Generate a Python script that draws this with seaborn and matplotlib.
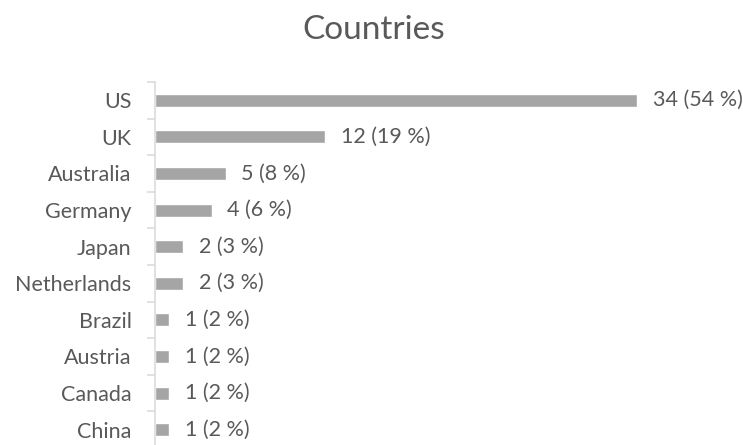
import matplotlib
matplotlib.use("Agg")
import matplotlib.pyplot as plt
import seaborn as sns
import pandas as pd

countries = ["US", "UK", "Australia", "Germany", "Japan", "Netherlands",
             "Brazil", "Austria", "Canada", "China"]
counts = [34, 12, 5, 4, 2, 2, 1, 1, 1, 1]

total = sum(counts)
df = pd.DataFrame({"country": countries, "count": counts})

sns.set_style("white")
plt.rcParams["font.family"] = ["Lato", "DejaVu Sans"]

text_color = "#595959"
bar_color = "#a5a5a5"
grid_color = "#d9d9d9"

fig = plt.figure(figsize=(7.43, 4.45), dpi=100)
ax = fig.add_axes([155 / 743, -3 / 445, 567 / 743, 366 / 445])

sns.barplot(data=df, x="count", y="country", orient="h", color=bar_color,
            width=0.355, ax=ax, saturation=1)

ax.set_xlim(0, 40)
ax.set_ylim(len(countries) - 0.5, -0.5)
ax.set_xlabel("")
ax.set_ylabel("")
ax.set_xticks([])

for i, c in enumerate(counts):
    pct = round(100 * c / total)
    ax.text(c + 1.1, i, f"{c} ({pct} %)", va="center", ha="left",
            fontsize=15.5, color=text_color)

ax.set_yticks(range(len(countries)))
ax.set_yticklabels(countries, fontsize=15.5, color=text_color)
ax.tick_params(axis="y", which="major", left=False, length=0, pad=17)
ax.set_yticks([i - 0.5 for i in range(len(countries) + 1)], minor=True)
ax.tick_params(axis="y", which="minor", left=True, length=6, color=grid_color, width=1.1)

for s in ["top", "right", "bottom"]:
    ax.spines[s].set_visible(False)
ax.spines["left"].set_color(grid_color)
ax.spines["left"].set_linewidth(1.1)

fig.text(0.503, 0.932, "Countries", ha="center", va="center",
         fontsize=24, color=text_color)

fig.savefig("out.png", dpi=100)
